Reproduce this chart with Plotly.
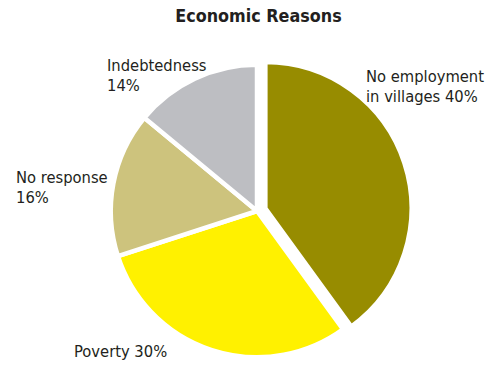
import textwrap
import plotly.graph_objects as go

# Shares of respondents by economic reason (percent)
categories = ["No employment in villages", "Poverty", "No response", "Indebtedness"]
shares = [40, 30, 16, 14]
slice_colors = ["#978c00", "#fff100", "#cdc37d", "#bdbec2"]
pull_out = [0.06, 0, 0, 0]

W, H = 487, 366
FONT = "DejaVu Sans Condensed, Liberation Sans Narrow, sans-serif"
TEXT_COLOR = "#231f20"
LABEL_SIZE = 16.4
LINE_GAP = 20

# label placement: left edge and first-line baseline (px from top), wrap width
label_pos = [(365, 82, 15), (73, 357, 15), (15, 183, 12), (106, 71.5, 12)]

fig = go.Figure(
    go.Pie(
        labels=categories,
        values=shares,
        sort=False,
        direction="clockwise",
        rotation=0,
        pull=pull_out,
        marker=dict(colors=slice_colors, line=dict(color="white", width=4.5)),
        textinfo="none",
        hoverinfo="label+percent",
        showlegend=False,
        domain=dict(x=[(257 - 165) / W, (257 + 165) / W], y=[0, (366 - 56) / H]),
    )
)

annotations = []
for cat, val, (lx, ly, wrap) in zip(categories, shares, label_pos):
    lines = textwrap.wrap(f"{cat} {val}%", width=wrap)
    for i, line in enumerate(lines):
        base = ly + i * LINE_GAP
        annotations.append(
            dict(
                text=line,
                x=lx / W,
                y=(H - (base - 0.35 * LABEL_SIZE)) / H,
                xref="paper",
                yref="paper",
                xanchor="left",
                yanchor="middle",
                showarrow=False,
                font=dict(family=FONT, size=LABEL_SIZE, color=TEXT_COLOR),
                borderpad=0,
            )
        )

fig.update_layout(
    width=W,
    height=H,
    margin=dict(l=0, r=0, t=0, b=0),
    paper_bgcolor="white",
    plot_bgcolor="white",
    title=dict(
        text="<b>Economic Reasons</b>",
        x=258.5 / W,
        xanchor="center",
        y=(H - 16) / H,
        yanchor="middle",
        font=dict(family=FONT, size=17.8, color=TEXT_COLOR),
    ),
    annotations=annotations,
)

fig.write_html("out.html")
